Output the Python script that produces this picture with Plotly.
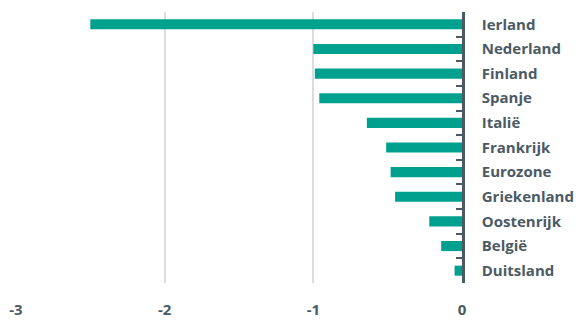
import plotly.graph_objects as go

# Landen en waarden (procentpunt)
landen = ["Ierland", "Nederland", "Finland", "Spanje", "Italië", "Frankrijk",
          "Eurozone", "Griekenland", "Oostenrijk", "België", "Duitsland"]
waarden = [-2.50, -1.00, -0.99, -0.96, -0.64, -0.51, -0.48, -0.45, -0.22, -0.14, -0.05]
x_ticks = [-3, -2, -1, 0]

TEAL = "#00a08f"
TEXT = "#4b5a64"
GRID = "#dcdcdc"
FONT = "Open Sans, sans-serif"

fig = go.Figure(
    go.Bar(
        x=waarden,
        y=landen,
        orientation="h",
        marker=dict(color=TEAL, line=dict(width=0)),
        width=0.41,
        hoverinfo="skip",
    )
)

fig.update_layout(
    width=580,
    height=320,
    margin=dict(l=16, r=118, t=12, b=37),
    paper_bgcolor="white",
    plot_bgcolor="white",
    showlegend=False,
    font=dict(family=FONT, size=14, color=TEXT),
)

fig.update_xaxes(
    range=[-3, 0],
    tickvals=x_ticks,
    ticktext=[str(v) for v in x_ticks],
    showgrid=True,
    gridcolor=GRID,
    gridwidth=1.5,
    zeroline=False,
    showline=False,
    ticks="",
    automargin=False,
    ticklabelstandoff=16,
    tickfont=dict(family=FONT, size=15, color=TEXT, weight=700),
)

fig.update_yaxes(
    type="category",
    categoryorder="array",
    categoryarray=landen,
    range=[len(landen) - 0.5, -0.5],
    side="right",
    showline=True,
    linecolor=TEXT,
    linewidth=2.5,
    ticks="inside",
    tickson="boundaries",
    ticklen=6,
    tickwidth=2,
    tickcolor=TEXT,
    showgrid=False,
    automargin=False,
    ticklabelstandoff=14,
    tickfont=dict(family=FONT, size=15, color=TEXT, weight=700),
)

fig.write_html("out.html")
